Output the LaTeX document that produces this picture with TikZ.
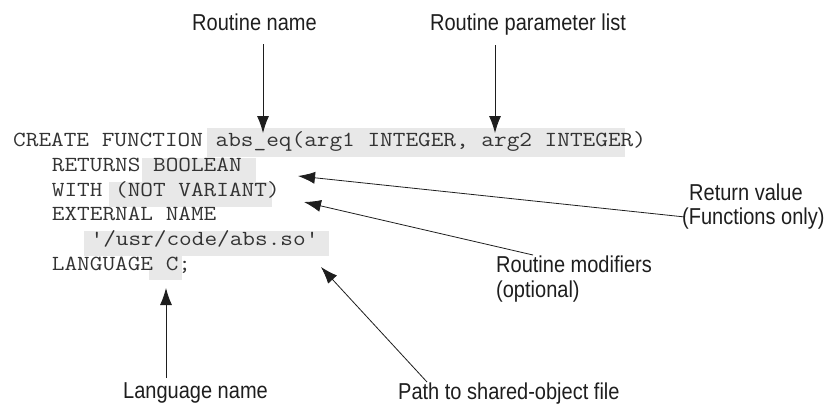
\documentclass[tikz,border=0pt]{standalone}
\usepackage{fontspec}
\setmainfont{Liberation Sans}
\setmonofont[FakeStretch=1.143]{Latin Modern Mono}
\newfontfamily\labfont[FakeStretch=0.87]{Liberation Sans}
\usetikzlibrary{arrows.meta}
\definecolor{hl}{HTML}{E8E8E8}
\definecolor{ink}{HTML}{1E1E1E}
\definecolor{codeink}{HTML}{333333}
\begin{document}
\begin{tikzpicture}[x=1pt,y=-1pt,
  code/.style={anchor=base west, inner sep=0pt, font=\ttfamily\fontsize{21.5}{24}\selectfont, text=codeink},
  lab/.style={anchor=base west, inner sep=0pt, font=\labfont\fontsize{23}{25}\selectfont, text=ink},
  pointer/.style={draw=ink, line width=0.8pt, -{Latex[length=17pt,width=12pt]}}]
\useasboundingbox (0,0) rectangle (832,408);

% highlight boxes
\fill[hl] (207,128) rectangle (625,157);
\fill[hl] (142,158) rectangle (256,182);
\fill[hl] (109,182) rectangle (272,207);
\fill[hl] (84,231) rectangle (329,256);
\fill[hl] (149,256) rectangle (182,280);

% code
\node[code] (code1) at (13,146.5) {CREATE FUNCTION abs\_eq(arg1 INTEGER, arg2 INTEGER)};
\node[code] (code2) at (51.7,171.3) {RETURNS BOOLEAN};
\node[code] (code3) at (51.7,196.1) {WITH (NOT VARIANT)};
\node[code] (code4) at (51.7,220.9) {EXTERNAL NAME};
\node[code] (code5) at (90.4,245.7) {'/usr/code/abs.so'};
\node[code] (code6) at (51.7,270.5) {LANGUAGE C;};

% labels
\node[lab, anchor=base] (rn) at (254.5,30) {Routine name};
\node[lab, anchor=base] (rp) at (528,30) {Routine parameter list};
\node[lab] (rv1) at (689,200) {Return value};
\node[lab] (rv2) at (682,224) {(Functions only)};
\node[lab] (rm1) at (496,272) {Routine modifiers};
\node[lab] (rm2) at (496,297) {(optional)};
\node[lab] (ln) at (123,398) {Language name};
\node[lab] (ps) at (398,399) {Path to shared-object file};

% arrow end points
\coordinate (rnTail) at (263,44);
\coordinate (rnTip) at (263,133);
\coordinate (rpTail) at (495,45);
\coordinate (rpTip) at (495,133);
\coordinate (rvTail) at (685,217);
\coordinate (rvTip) at (298,176);
\coordinate (rmTail) at (533,255);
\coordinate (rmTip) at (304,202);
\coordinate (lnTail) at (166,378);
\coordinate (lnTip) at (166,288);
\coordinate (psTail) at (427,382);
\coordinate (psTip) at (321,267);

\draw[pointer] (rnTail) -- (rnTip);
\draw[pointer] (rpTail) -- (rpTip);
\draw[pointer] (rvTail) -- (rvTip);
\draw[pointer] (rmTail) -- (rmTip);
\draw[pointer] (lnTail) -- (lnTip);
\draw[pointer] (psTail) -- (psTip);
\end{tikzpicture}
\end{document}
